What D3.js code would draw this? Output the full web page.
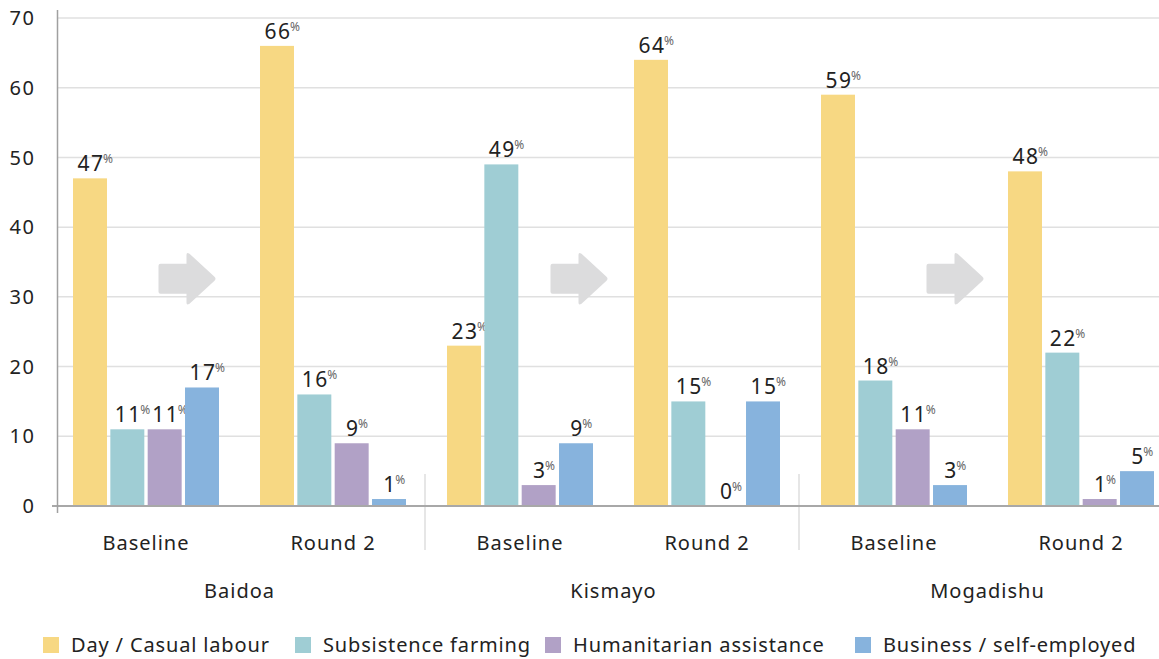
<!DOCTYPE html>
<html><head><meta charset="utf-8">
<script src="https://cdn.jsdelivr.net/npm/d3@7"></script>
<style>body{margin:0;background:#fff}svg{display:block}text{font-family:"Noto Sans",sans-serif}</style>
</head><body><svg id="c" width="1159" height="659"></svg>
<script>
const locations = ["Baidoa", "Kismayo", "Mogadishu"];
const rounds = ["Baseline", "Round 2"];
const seriesNames = ["Day / Casual labour", "Subsistence farming", "Humanitarian assistance", "Business / self-employed"];
const seriesColors = ["#F7D883", "#9FCDD4", "#B1A1C6", "#87B3DD"];
const dayLabour = [47, 66, 23, 64, 59, 48];
const farming = [11, 16, 49, 15, 18, 22];
const humanitarian = [11, 9, 3, 0, 11, 1];
const business = [17, 1, 9, 15, 3, 5];
const yTicks = [0, 10, 20, 30, 40, 50, 60, 70];
const arrowOffsets = [-52, -34, -32];

const series = [dayLabour, farming, humanitarian, business];
const svg = d3.select("#c");
const y = d3.scaleLinear().domain([0, 70]).range([506, 18]);
const cats = [];
locations.forEach(l => rounds.forEach(r => cats.push(l + "|" + r)));
const x0 = d3.scaleBand().domain(cats).range([52.5, 1174.5]);
const x1 = d3.scaleBand().domain(d3.range(4)).range([20.5, 187 - 20.5]).paddingInner(0.09);

// gridlines
svg.append("g").selectAll("line").data(yTicks.filter(t => t > 0)).join("line")
  .attr("x1", 57).attr("x2", 1159).attr("y1", d => y(d)).attr("y2", d => y(d))
  .attr("stroke", "#e0e0e0").attr("stroke-width", 1.5);

// y tick labels
svg.append("g").selectAll("text").data(yTicks).join("text")
  .attr("x", 35.5).attr("y", d => y(d)).attr("dy", "0.36em").attr("text-anchor", "end")
  .attr("font-size", 20).attr("letter-spacing", 1.5).attr("fill", "#222").text(d => d);

// group separators
[1, 2].forEach(i => {
  const xs = x0(cats[i * 2]) - 1.5;
  svg.append("line").attr("x1", xs).attr("x2", xs).attr("y1", 474).attr("y2", 550)
    .attr("stroke", "#dedede").attr("stroke-width", 1.5);
});

// arrows
locations.forEach((l, i) => {
  const cx = x0(l + "|Round 2") + arrowOffsets[i];
  const cy = y(32.6);
  const g = svg.append("g").attr("transform", `translate(${cx},${cy})`);
  g.append("path")
    .attr("d", "M-27,-15 L-1,-15 L-1,-24 Q-1,-27 2,-25 L27,-2 Q29,0 27,2 L2,25 Q-1,27 -1,24 L-1,15 L-27,15 Q-29,15 -29,13 L-29,-13 Q-29,-15 -27,-15 Z")
    .attr("fill", "#DCDCDD");
});

// bars
cats.forEach((c, ci) => {
  series.forEach((s, si) => {
    const v = s[ci];
    const bx = x0(c) + x1(si);
    const bw = x1.bandwidth();
    if (v > 0) {
      svg.append("rect").attr("x", bx).attr("y", y(v)).attr("width", bw).attr("height", y(0) - y(v))
        .attr("fill", seriesColors[si]);
    }
    const num = svg.append("text").attr("x", bx + bw / 2 + 1).attr("y", y(v) - 7)
      .attr("font-size", 21).attr("letter-spacing", 1.5).attr("fill", "#222").attr("text-anchor", "middle").text(v);
    const w = num.node().getComputedTextLength();
    svg.append("text").attr("x", bx + bw / 2 + w / 2 - 0.5).attr("y", y(v) - 15)
      .attr("font-size", 12).attr("fill", "#666").text("%");
  });
});

// axes lines
svg.append("line").attr("x1", 52).attr("x2", 1159).attr("y1", y(0)).attr("y2", y(0))
  .attr("stroke", "#a8a8a8").attr("stroke-width", 2);
svg.append("line").attr("x1", 57.5).attr("x2", 57.5).attr("y1", 10).attr("y2", 513)
  .attr("stroke", "#a0a0a0").attr("stroke-width", 1.5);

// category labels
svg.append("g").selectAll("text").data(cats).join("text")
  .attr("x", d => x0(d) + x0.bandwidth() / 2).attr("y", 550).attr("text-anchor", "middle")
  .attr("font-size", 20).attr("letter-spacing", 1).attr("fill", "#222").text(d => d.split("|")[1]);
svg.append("g").selectAll("text").data(locations).join("text")
  .attr("x", d => x0(d + "|Baseline") + x0.bandwidth()).attr("y", 598).attr("text-anchor", "middle")
  .attr("font-size", 20).attr("letter-spacing", 1).attr("fill", "#222").text(d => d);

// legend
const legX = [43, 295, 545, 855];
seriesNames.forEach((n, i) => {
  svg.append("rect").attr("x", legX[i]).attr("y", 637).attr("width", 16).attr("height", 16).attr("fill", seriesColors[i]);
  svg.append("text").attr("x", legX[i] + 28).attr("y", 652).attr("font-size", 20).attr("letter-spacing", 0.85).attr("fill", "#222").text(n);
});
</script></body></html>
